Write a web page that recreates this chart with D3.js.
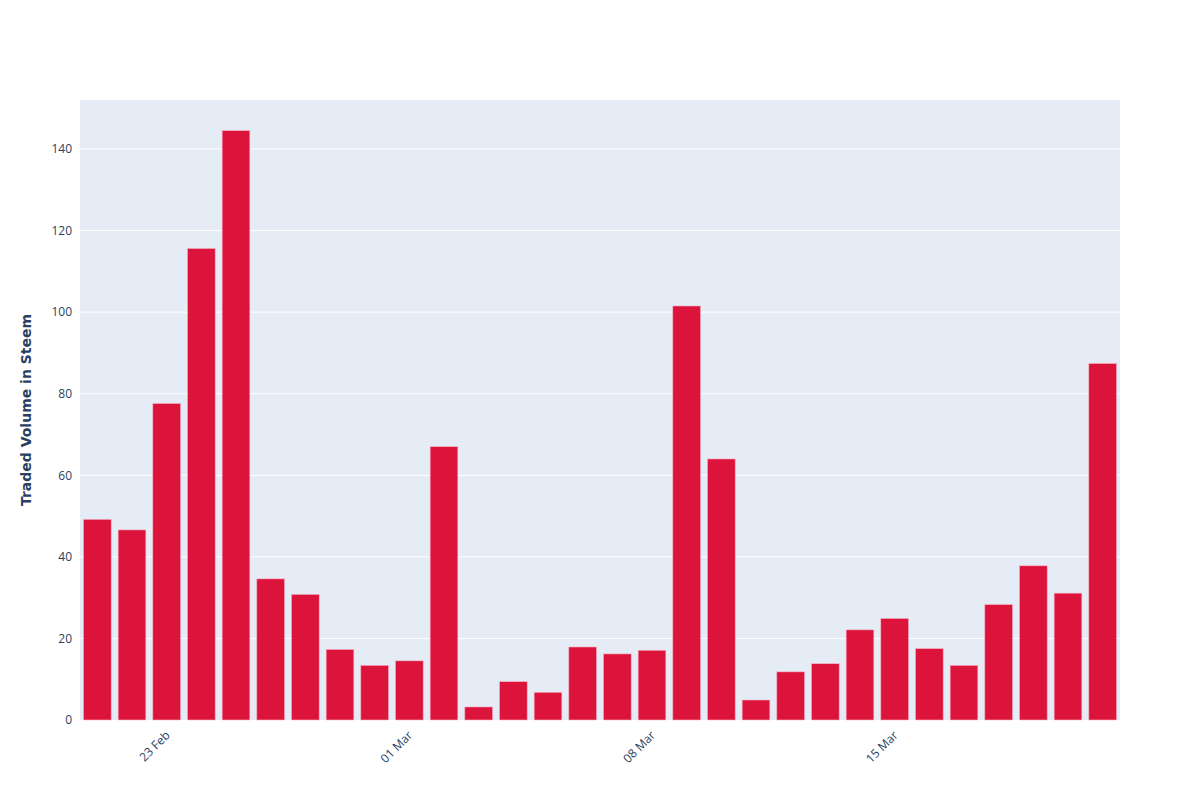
<!DOCTYPE html>
<html>
<head>
<meta charset="utf-8">
<script src="https://cdn.jsdelivr.net/npm/d3@7"></script>
<style>
  html, body { margin: 0; padding: 0; background: #fff; }
  svg { display: block; font-family: "Open Sans", verdana, arial, sans-serif; }
</style>
</head>
<body>
<svg id="chart" width="1200" height="800"></svg>
<script>
const dates = [
  "2020-02-21","2020-02-22","2020-02-23","2020-02-24","2020-02-25","2020-02-26","2020-02-27","2020-02-28","2020-02-29",
  "2020-03-01","2020-03-02","2020-03-03","2020-03-04","2020-03-05","2020-03-06","2020-03-07","2020-03-08","2020-03-09",
  "2020-03-10","2020-03-11","2020-03-12","2020-03-13","2020-03-14","2020-03-15","2020-03-16","2020-03-17","2020-03-18",
  "2020-03-19","2020-03-20","2020-03-21"
];
const volumes = [
  49.2, 46.6, 77.6, 115.6, 144.5, 34.6, 30.8, 17.3, 13.4,
  14.5, 67.0, 3.2, 9.4, 6.8, 17.9, 16.2, 17.1, 101.5,
  64.0, 4.9, 11.8, 13.8, 22.1, 24.9, 17.5, 13.4, 28.3,
  37.8, 31.1, 87.4
];
const xTickDates = ["2020-02-23","2020-03-01","2020-03-08","2020-03-15"];
const xTickLabels = ["23 Feb","01 Mar","08 Mar","15 Mar"];
const yTicks = [0, 20, 40, 60, 80, 100, 120, 140];
const yTitle = "Traded Volume in Steem";
const yMax = 152;

const margin = {left: 80, right: 80, top: 100, bottom: 80};
const W = 1200, H = 800;
const svg = d3.select("#chart");
const plotW = W - margin.left - margin.right;
const plotH = H - margin.top - margin.bottom;

const x = d3.scaleBand().domain(dates).range([margin.left, margin.left + plotW])
  .paddingInner(0.2).paddingOuter(0.1);
const y = d3.scaleLinear().domain([0, yMax]).range([margin.top + plotH, margin.top]);

svg.append("rect").attr("x", margin.left).attr("y", margin.top)
  .attr("width", plotW).attr("height", plotH).attr("fill", "#E5ECF6");

svg.append("g").selectAll("line").data(yTicks.filter(d => d > 0)).join("line")
  .attr("x1", margin.left).attr("x2", margin.left + plotW)
  .attr("y1", d => y(d)).attr("y2", d => y(d))
  .attr("stroke", "#fff").attr("stroke-width", 1);

svg.append("g").selectAll("rect").data(dates.map((d, i) => ({d, v: volumes[i]}))).join("rect")
  .attr("x", d => x(d.d)).attr("width", x.bandwidth())
  .attr("y", d => y(d.v)).attr("height", d => y(0) - y(d.v))
  .attr("fill", "#DC143C").attr("stroke", "#f7b3c2").attr("stroke-width", 0.6);

const yAxis = d3.axisLeft(y).tickValues(yTicks).tickSize(0).tickPadding(8).tickFormat(d3.format("d"));
const gy = svg.append("g").attr("transform", `translate(${margin.left},0)`).call(yAxis);
gy.select(".domain").remove();
gy.selectAll("text").attr("fill", "#2a3f5f").style("font-size", "12px")
  .style("font-family", '"Open Sans", verdana, arial, sans-serif');

const labelMap = new Map(xTickDates.map((d, i) => [d, xTickLabels[i]]));
const xAxis = d3.axisBottom(x).tickValues(xTickDates).tickSize(0).tickPadding(0)
  .tickFormat(d => labelMap.get(d));
const gx = svg.append("g").attr("transform", `translate(0,${margin.top + plotH})`).call(xAxis);
gx.select(".domain").remove();
gx.selectAll("text")
  .attr("fill", "#2a3f5f").style("font-size", "12px")
  .style("font-family", '"Open Sans", verdana, arial, sans-serif')
  .attr("text-anchor", "end")
  .attr("dy", "0.35em")
  .attr("transform", "translate(1,13) rotate(-45)");

svg.append("text")
  .attr("transform", `translate(31,${margin.top + plotH / 2}) rotate(-90)`)
  .attr("text-anchor", "middle")
  .attr("fill", "#2a3f5f")
  .style("font-size", "14px").style("font-weight", "bold")
  .style("font-family", '"DejaVu Sans", verdana, sans-serif')
  .text(yTitle);
</script>
</body>
</html>
